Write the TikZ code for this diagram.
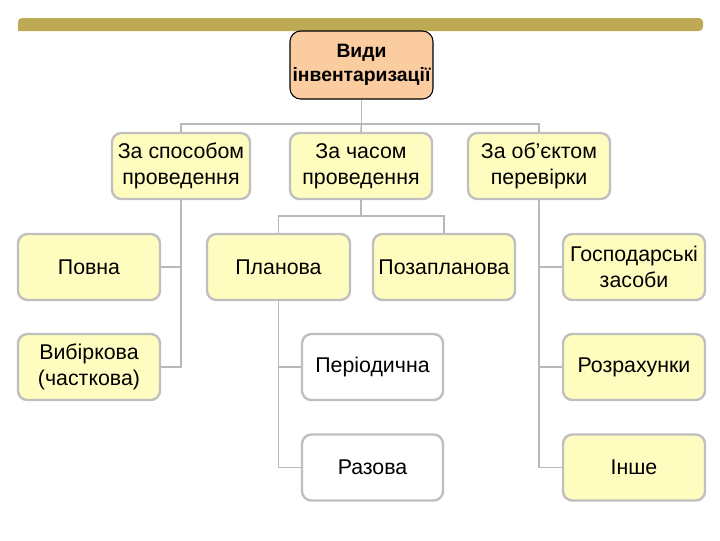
\documentclass[tikz,border=0pt]{standalone}
\usepackage{fontspec}
\setmainfont{Liberation Sans}
\begin{document}
\begin{tikzpicture}[x=0.75pt,y=-0.75pt,
  box/.style={draw=black!25,line width=1.8pt,rounded corners=7pt,fill=yellow!25,align=center,font=\fontsize{16}{19.5}\selectfont,inner sep=0pt},
  wbox/.style={box,fill=white},
  ln/.style={draw=black!28,line width=1.2pt}]
\useasboundingbox (0,0) rectangle (720,540);
\fill[color={rgb,255:red,190;green,170;blue,85},rounded corners=3pt] (18,31) -- (18,18) -- (703,18) -- (703,31) [sharp corners] -- cycle;
\node[draw=black,line width=0.8pt,rounded corners=8pt,fill={rgb,255:red,250;green,204;blue,160},minimum width=107.25pt,minimum height=51pt,align=center,font=\bfseries\fontsize{14.5}{18}\selectfont,inner sep=0pt] (root) at (361.5,65) {Види\\інвентаризації};
\def\bx#1#2#3#4#5{\node[#5,minimum width=#3,minimum height=49.5pt] (#1) at #2 {#4};}
\bx{a}{(181,166)}{103.5pt}{За способом\\проведення}{box}
\bx{b}{(361,166)}{106.5pt}{За часом\\проведення}{box}
\bx{c}{(539,166)}{106.5pt}{За об'єктом\\перевірки}{box}
\bx{a1}{(89,267)}{106.5pt}{Повна}{box}
\bx{a2}{(89,367)}{106.5pt}{Вибіркова\\(часткова)}{box}
\bx{b1}{(278.5,267)}{107.25pt}{Планова}{box}
\bx{b2}{(444,267)}{106.5pt}{Позапланова}{box}
\bx{p1}{(372.5,367)}{105.75pt}{Періодична}{wbox}
\bx{p2}{(372.5,467.5)}{105.75pt}{Разова}{wbox}
\bx{c1}{(634,267)}{106.5pt}{Господарські\\засоби}{box}
\bx{c2}{(634,367)}{106.5pt}{Розрахунки}{box}
\bx{c3}{(634,467.5)}{106.5pt}{Інше}{box}
\path[ln] (root.south) -- (361.5,124);
\path[ln] (a.north) |- (361.5,124) -| (c.north);
\path[ln] (361.5,124) -- (b.north);
\path[ln] (a.south) |- (a2.east);
\path[ln] (181,267) -- (a1.east);
\path[ln] (b.south) -- (361,216);
\path[ln] (b1.north) |- (361,216) -| (b2.north);
\path[ln] (b1.south) |- (p2.west);
\path[ln] (278.5,367) -- (p1.west);
\path[ln] (c.south) |- (c3.west);
\path[ln] (539,267) -- (c1.west);
\path[ln] (539,367) -- (c2.west);
\end{tikzpicture}
\end{document}
